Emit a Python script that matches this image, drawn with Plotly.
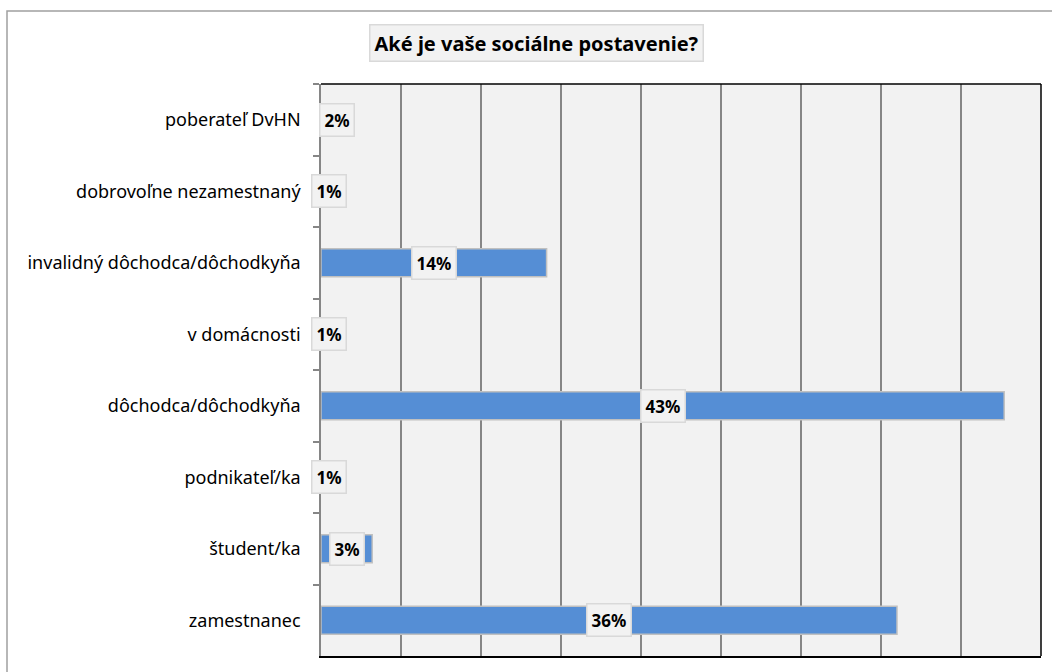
import plotly.graph_objects as go

categories = [
    "poberateľ DvHN",
    "dobrovoľne nezamestnaný",
    "invalidný dôchodca/dôchodkyňa",
    "v domácnosti",
    "dôchodca/dôchodkyňa",
    "podnikateľ/ka",
    "študent/ka",
    "zamestnanec",
]
values = [2.0, 1.0, 14.1, 1.0, 42.7, 1.0, 3.2, 36.0]
value_labels = ["2%", "1%", "14%", "1%", "43%", "1%", "3%", "36%"]
x_ticks = [0, 5, 10, 15, 20, 25, 30, 35, 40, 45]
title_text = "Aké je vaše sociálne postavenie?"

FONT = "Noto Sans"
W, H = 1052, 672
ml, mr, mt, mb = 321, 11, 84, 16
pw, ph = W - ml - mr, H - mt - mb

def px_x(p):
    return (p - ml) / pw

def px_y(p):
    return (H - mb - p) / ph

fig = go.Figure()
fig.add_trace(go.Bar(
    x=values,
    y=categories,
    orientation="h",
    width=0.39,
    marker=dict(color="#558ED5", line=dict(color="#C0C0C0", width=1.5)),
    hoverinfo="x+y",
))

annotations = []
for c, v, t in zip(categories, values, value_labels):
    annotations.append(dict(
        x=v / 2, y=c, xref="x", yref="y", text="<b>" + t + "</b>",
        xanchor="center", yanchor="middle",
        showarrow=False, font=dict(family=FONT, size=17, color="#000000"),
        bgcolor="#F2F2F2", bordercolor="#D9D9D9", borderwidth=1.5, borderpad=4,
    ))
annotations.append(dict(
    x=px_x(536), y=px_y(43), xref="paper", yref="paper",
    xanchor="center", yanchor="middle",
    text="<b>" + title_text + "</b>", showarrow=False,
    font=dict(family=FONT, size=20, color="#000000"),
    bgcolor="#F2F2F2", bordercolor="#D9D9D9", borderwidth=1.5, borderpad=4,
))

shapes = [
    # outer chart border
    dict(type="rect", xref="paper", yref="paper",
         x0=px_x(7), x1=px_x(1070), y0=px_y(690), y1=px_y(11),
         line=dict(color="#A0A0A0", width=1.5), fillcolor="rgba(0,0,0,0)", layer="below"),
    # right border of plot area
    dict(type="line", xref="paper", yref="paper", x0=1, x1=1, y0=0, y1=1,
         line=dict(color="#000000", width=1.5)),
    # top border of plot area
    dict(type="line", xref="paper", yref="paper", x0=0, x1=1, y0=1, y1=1,
         line=dict(color="#000000", width=1.5)),
]

fig.update_layout(
    width=W, height=H,
    margin=dict(l=ml, r=mr, t=mt, b=mb, pad=0),
    paper_bgcolor="#FFFFFF",
    plot_bgcolor="#F2F2F2",
    showlegend=False,
    font=dict(family=FONT, size=16, color="#000000"),
    annotations=annotations,
    shapes=shapes,
    xaxis=dict(
        range=[0, 45], tickvals=x_ticks, showticklabels=False,
        showgrid=True, gridcolor="#868686", gridwidth=1.5,
        zeroline=False, showline=True, linecolor="#000000", linewidth=1.5,
        ticks="", fixedrange=True,
    ),
    yaxis=dict(
        type="category", autorange="reversed",
        categoryorder="array", categoryarray=categories,
        showgrid=False, zeroline=False,
        showline=True, linecolor="#868686", linewidth=1.5,
        ticks="outside", ticklen=6, tickcolor="#868686", tickwidth=1.5,
        tickson="boundaries", ticklabelstandoff=15,
        tickfont=dict(family=FONT, size=18, color="#000000"),
        fixedrange=True,
    ),
)

fig.write_html(
    "out.html",
    config={"displayModeBar": False},
    post_script="document.body.style.margin='0';document.body.style.overflow='hidden';",
)
